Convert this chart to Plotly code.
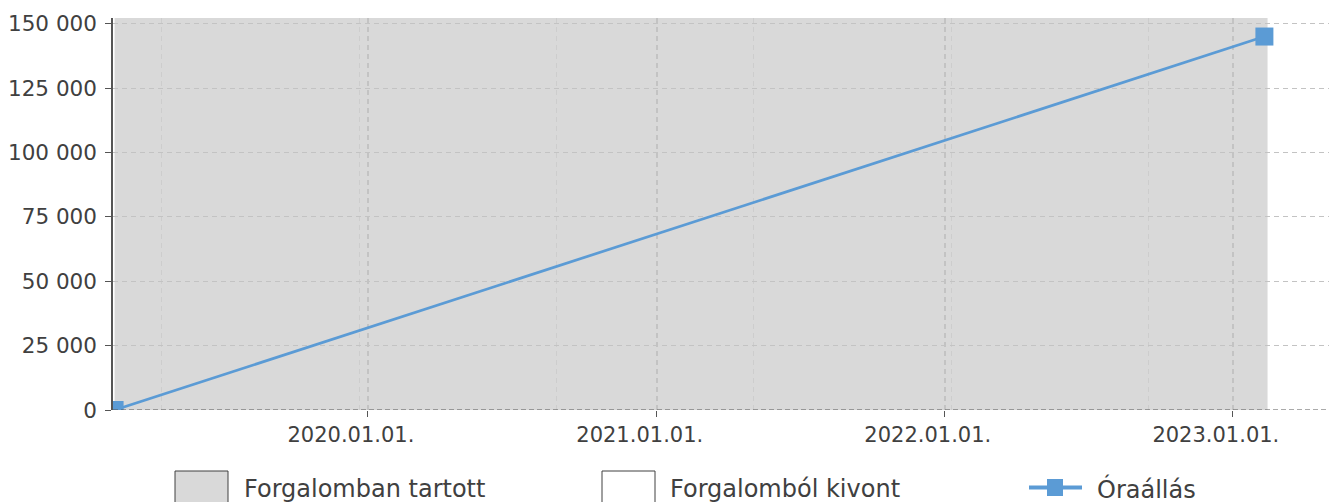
import plotly.graph_objects as go

# ---- data ----
reading_dates = ["2019-02-14", "2023-02-10"]
reading_values = [0, 145000]
service_start = "2019-02-14"
service_end = "2023-02-14"
x_range = ["2019-02-12", "2023-05-13"]
y_range = [0, 152200]
y_ticks = [0, 25000, 50000, 75000, 100000, 125000, 150000]
legend_labels = ["Forgalomban tartott", "Forgalomból kivont", "Óraállás"]

# the page body has an 8px margin, so the figure is placed at (8, 8)
OFF = 8
PAGE_W, PAGE_H = 1337, 502
W, H = PAGE_W - OFF, PAGE_H - OFF
# plot area in page pixels: left 113, right 1337, top 18, bottom 410
ML, MT = 113 - OFF, 18 - OFF
MR = 0
MB = H - (410 - OFF)
PW, PH = W - ML - MR, H - MT - MB

TEXT = "#404040"
BLUE = "#5b9bd5"
GRAY = "#d9d9d9"
FONT = "DejaVu Sans"


def px_x(px):  # page pixel -> paper x
    return (px - OFF - ML) / PW


def px_y(py):  # page pixel -> paper y
    return (MT + PH - (py - OFF)) / PH


fig = go.Figure()
fig.add_trace(go.Scatter(
    x=reading_dates, y=reading_values, mode="lines+markers",
    line=dict(color=BLUE, width=2.7),
    marker=dict(symbol="square", size=18, color=BLUE),
    showlegend=False, name=legend_labels[2], cliponaxis=True,
))

shapes = [
    # in-service period background
    dict(type="rect", xref="x", yref="y domain", x0=service_start, x1=service_end,
         y0=0, y1=1, fillcolor=GRAY, line=dict(width=0), layer="below"),
    # dashed baseline
    dict(type="line", xref="paper", yref="y", x0=0, x1=1, y0=0, y1=0,
         line=dict(color="#555555", width=1, dash="5px,3px"), layer="above"),
    # legend boxes
    dict(type="rect", xref="paper", yref="paper", x0=px_x(175), x1=px_x(228),
         y0=px_y(471), y1=px_y(515), fillcolor=GRAY, line=dict(color=TEXT, width=1)),
    dict(type="rect", xref="paper", yref="paper", x0=px_x(602), x1=px_x(655),
         y0=px_y(471), y1=px_y(515), fillcolor="white", line=dict(color=TEXT, width=1)),
    dict(type="line", xref="paper", yref="paper", x0=px_x(1029), x1=px_x(1082),
         y0=px_y(487.5), y1=px_y(487.5), line=dict(color=BLUE, width=4)),
    dict(type="rect", xref="paper", yref="paper", x0=px_x(1047), x1=px_x(1063),
         y0=px_y(479), y1=px_y(496), fillcolor=BLUE, line=dict(width=0)),
]

annotations = []
for label, lx in zip(legend_labels, [242, 668, 1095]):
    annotations.append(dict(
        text=label, xref="paper", yref="paper", x=px_x(lx), y=px_y(489),
        xanchor="left", yanchor="middle", showarrow=False,
        font=dict(family=FONT, size=24, color=TEXT),
    ))

fig.update_layout(
    width=W, height=H,
    margin=dict(l=ML, r=MR, t=MT, b=MB, pad=0),
    paper_bgcolor="white", plot_bgcolor="white",
    separators=", ",
    font=dict(family=FONT, size=21, color=TEXT),
    shapes=shapes, annotations=annotations,
    showlegend=False,
)
fig.update_xaxes(
    type="date", range=x_range,
    tick0="2020-01-01", dtick="M12", tickformat="%Y.%m.%d.",
    ticks="outside", ticklen=6, tickcolor="#555555",
    ticklabelshift=-17,
    showgrid=True, gridcolor="#c3c3c3", griddash="5px,4px", gridwidth=1.5,
    minor=dict(tick0="2019-12-21", dtick=250 * 86400000, showgrid=True,
               gridcolor="#cdcdcd", griddash="5px,4px", gridwidth=1, ticks=""),
    showline=False, zeroline=False,
    tickfont=dict(size=21, color=TEXT),
)
fig.update_yaxes(
    range=y_range, tickvals=y_ticks, tickformat=",d",
    ticks="outside", ticklen=6, tickcolor="#555555",
    ticklabelstandoff=4,
    showgrid=True, gridcolor="#c3c3c3", griddash="5px,4px", gridwidth=1.2,
    showline=True, linecolor="#555555", linewidth=1.5,
    zeroline=False,
    tickfont=dict(size=21.5, color=TEXT),
)

fig.write_html("out.html")
